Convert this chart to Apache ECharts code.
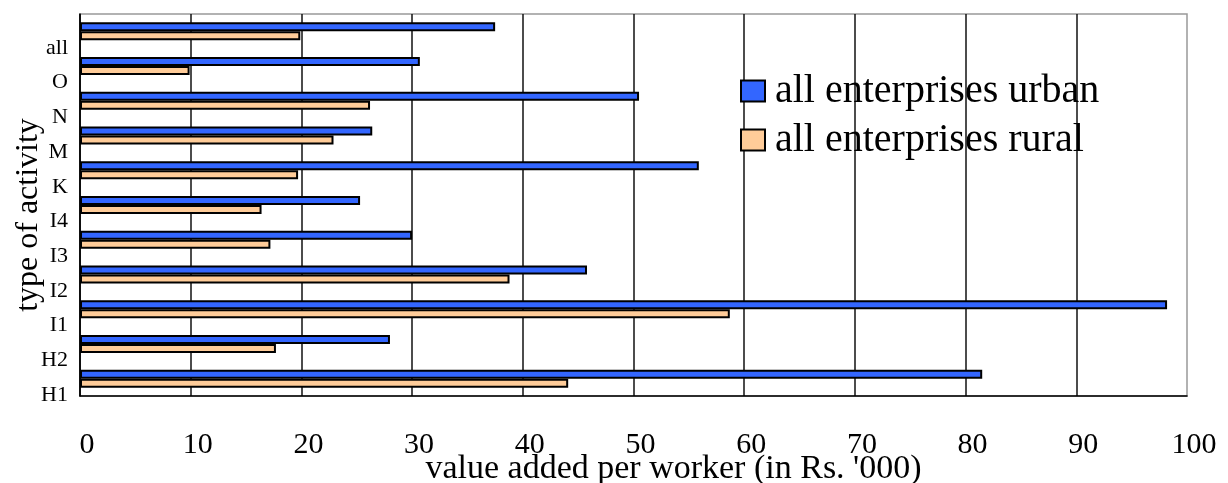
<!DOCTYPE html>
<html>
<head>
<meta charset="utf-8">
<script src="https://cdn.jsdelivr.net/npm/echarts@6/dist/echarts.min.js"></script>
<style>
html,body{margin:0;padding:0;background:#fff;}
#chart{width:1228px;height:483px;}
</style>
</head>
<body>
<div id="chart"></div>
<script>
const categories = ['H1', 'H2', 'I1', 'I2', 'I3', 'I4', 'K', 'M', 'N', 'O', 'all'];
const urban = [81.5, 28.0, 98.2, 45.8, 30.0, 25.3, 55.9, 26.4, 50.5, 30.7, 37.5];
const rural = [44.1, 17.7, 58.7, 38.8, 17.2, 16.4, 19.7, 22.9, 26.2, 9.9, 19.9];
const xTicks = [0, 10, 20, 30, 40, 50, 60, 70, 80, 90, 100];
const urbanName = 'all enterprises urban';
const ruralName = 'all enterprises rural';

const FONT = '"Liberation Serif", "DejaVu Serif", serif';
const chart = echarts.init(document.getElementById('chart'), null, {renderer: 'canvas'});
chart.setOption({
  animation: false,
  backgroundColor: '#fff',
  textStyle: {fontFamily: FONT, color: '#000'},
  grid: {
    left: 80, right: 41, top: 14, bottom: 87,
    containLabel: false, outerBoundsMode: 'none',
    show: true, borderColor: '#999', borderWidth: 1.5, backgroundColor: 'transparent'
  },
  legend: {
    data: [urbanName, ruralName],
    orient: 'vertical',
    left: 735, top: 66,
    itemWidth: 24, itemHeight: 21, itemGap: 9,
    textStyle: {fontFamily: FONT, fontSize: 40, color: '#000', padding: [0,0,0,5]},
    icon: 'rect'
  },
  xAxis: {
    type: 'value',
    min: xTicks[0], max: xTicks[xTicks.length - 1], interval: 10,
    name: "value added per worker (in Rs. '000)",
    nameLocation: 'middle', nameGap: 56, nameMoveOverlap: false,
    nameTextStyle: {fontFamily: FONT, fontSize: 34, color: '#000', padding: [0,0,0,80]},
    axisLine: {show: true, lineStyle: {color: '#000', width: 1.5}},
    axisTick: {show: false},
    axisLabel: {
      fontFamily: FONT, fontSize: 30, color: '#000', margin: 34,
      padding: [0,0,0,14], hideOverlap: false,
      formatter: v => xTicks.includes(v) ? String(v) : ''
    },
    splitLine: {show: true, showMaxLine: false, lineStyle: {color: '#111', width: 1.5}}
  },
  yAxis: {
    type: 'category',
    data: categories,
    name: 'type of activity',
    nameLocation: 'middle', nameGap: 35, nameMoveOverlap: false,
    nameTextStyle: {fontFamily: FONT, fontSize: 32, color: '#000', padding: [0,20,0,0]},
    axisLine: {show: true, lineStyle: {color: '#000', width: 1.5}},
    axisTick: {show: false},
    axisLabel: {
      fontFamily: FONT, fontSize: 22, color: '#000', margin: 12,
      verticalAlign: 'top', lineHeight: 33,
      interval: 0, showMinLabel: true, showMaxLabel: true, hideOverlap: false
    },
    splitLine: {show: false}
  },
  series: [
    {
      name: urbanName, type: 'bar', data: urban,
      barWidth: 9, barGap: '0%',
      itemStyle: {color: '#3366FF', borderColor: '#000', borderWidth: 2}
    },
    {
      name: ruralName, type: 'bar', data: rural,
      barWidth: 9, barGap: '0%',
      itemStyle: {color: '#FFCC99', borderColor: '#000', borderWidth: 2}
    }
  ]
});
</script>
</body>
</html>
